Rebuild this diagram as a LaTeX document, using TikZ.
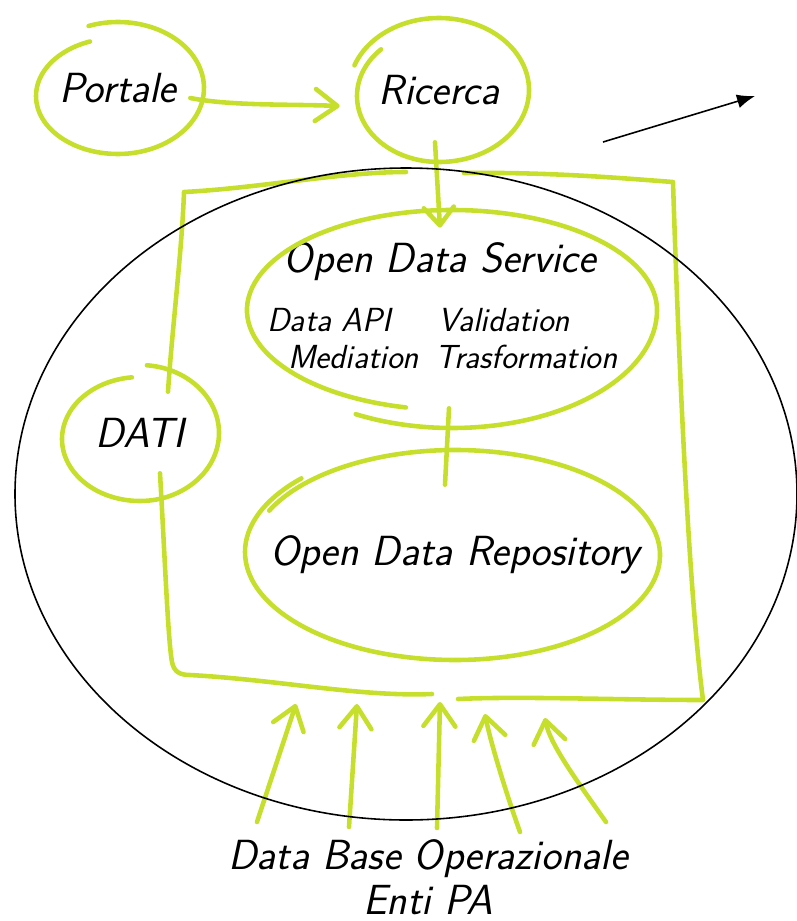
\documentclass[tikz,border=0pt]{standalone}
\usepackage{fontspec}
\usetikzlibrary{arrows.meta}
\definecolor{sketchgreen}{RGB}{198,222,44}

\begin{document}
\begin{tikzpicture}[x=0.02cm, y=-0.02cm,
		sketch/.style={draw=sketchgreen, line width=2.6pt, line cap=round, line join=round},
		flow/.style={sketch, -{Straight Barb[round, length=0.44cm, width=0.64cm]}},
		ring/.style={inner sep=0pt, font=\fontsize{24}{29}\selectfont\sffamily\itshape},
		item/.style={inner sep=0pt, anchor=west, font=\fontsize{19}{23}\selectfont\sffamily\itshape},
	]
	\useasboundingbox (0, 0) rectangle (796, 921);
	\node[ring, minimum width=3.44cm, minimum height=2.6cm] at (118, 88) (portale) {Portale};
	\node[ring, minimum width=3.6cm, minimum height=2.88cm] at (439, 90) (ricerca) {Ricerca};
	\node[ring, minimum width=3.16cm, minimum height=2.72cm] at (140, 433) (dati) {DATI};
	\node[ring, minimum width=8.2cm, minimum height=4.2cm] at (452, 310) (ods) {};
	\node[ring, minimum width=8.2cm, minimum height=4.32cm] at (455, 555) (odr) {Open Data Repository};
	\node[ring] at (440, 262) (ods-title) {Open Data Service};
	\node[item] at (267, 320) (data-api) {Data API};
	\node[item] at (438, 320) (validation) {Validation};
	\node[item] at (288, 357) (mediation) {Mediation};
	\node[item] at (435, 357) (trasformation) {Trasformation};
	\node[ring, align=center, font=\fontsize{24}{25.6}\selectfont\sffamily\itshape] at (428, 877) (dbo) {Data Base Operazionale\\Enti PA};

	% hand drawn rings
	\draw[sketch] ([shift={(250:86 and 66)}]portale.center) arc[start angle=250, end angle=450, x radius=86, y radius=66] arc[start angle=450, end angle=610, x radius=82, y radius=58];
	\draw[sketch] ([shift={(200:90 and 72)}]ricerca.center) arc[start angle=200, end angle=450, x radius=90, y radius=72] arc[start angle=450, end angle=585, x radius=82, y radius=66];
	\draw[sketch] ([shift={(275:79 and 68)}]dati.center) arc[start angle=275, end angle=450, x radius=79, y radius=68] arc[start angle=450, end angle=624, x radius=78, y radius=62];
	\draw[sketch] ([shift={(103:205 and 100)}]ods.center) arc[start angle=103, end angle=360, x radius=205, y radius=100] arc[start angle=360, end angle=478, x radius=205, y radius=118];
	\draw[sketch] ([shift={(205:205 and 105)}]odr.center) arc[start angle=205, end angle=450, x radius=205, y radius=105] arc[start angle=450, end angle=583, x radius=210, y radius=108];

	\draw[flow] ([shift={(-14, 10)}]portale.east) .. controls +(40, 8) and +(-50, -2) .. ([shift={(-9, 16)}]ricerca.west);
	\draw[flow, -{Straight Barb[round, length=0.36cm, width=0.6cm]}] ([shift={(-4, -20)}]ricerca.south) -- ([shift={(-12, 23)}]ods.north);
	\draw[sketch] ([shift={(-3, -7)}]ods.south) -- ([shift={(-10, 38)}]odr.north);

	% frame
	\draw[sketch] ([shift={(28, 27)}]dati.north) .. controls (172, 330) and (182, 250) .. (184, 192) .. controls (260, 188) and (340, 172) .. (406, 172);
	\draw[sketch] ([shift={(20, -28)}]dati.south) .. controls (165, 560) and (168, 640) .. (172, 662) .. controls (174, 672) and (180, 675) .. (190, 675) .. controls (280, 680) and (360, 697) .. (432, 694);
	\draw[sketch] (464, 173) .. controls (550, 172) and (620, 178) .. (673, 182) .. controls (680, 400) and (690, 600) .. (703, 700) .. controls (620, 700) and (520, 696) .. (458, 699);

	\foreach \tx/\ty/\hx/\hy in {257/822/296/704, 349/827/357/704, 437/828/440/702}
		\draw[flow] (\tx, \ty) -- (\hx, \hy);
	\draw[flow] (520, 832) .. controls (505, 790) and (490, 740) .. (485, 714);
	\draw[flow] (606, 822) .. controls (580, 785) and (550, 745) .. (545, 718);

	\draw[black, line width=0.9pt] (406, 494) ellipse [x radius=391, y radius=326];
	\coordinate (out-start) at (603, 142);
	\coordinate (out-end) at (755, 96);
	\draw[black, line width=0.9pt, -{Latex[length=0.36cm, width=0.28cm]}] (out-start) -- (out-end);
\end{tikzpicture}
\end{document}
